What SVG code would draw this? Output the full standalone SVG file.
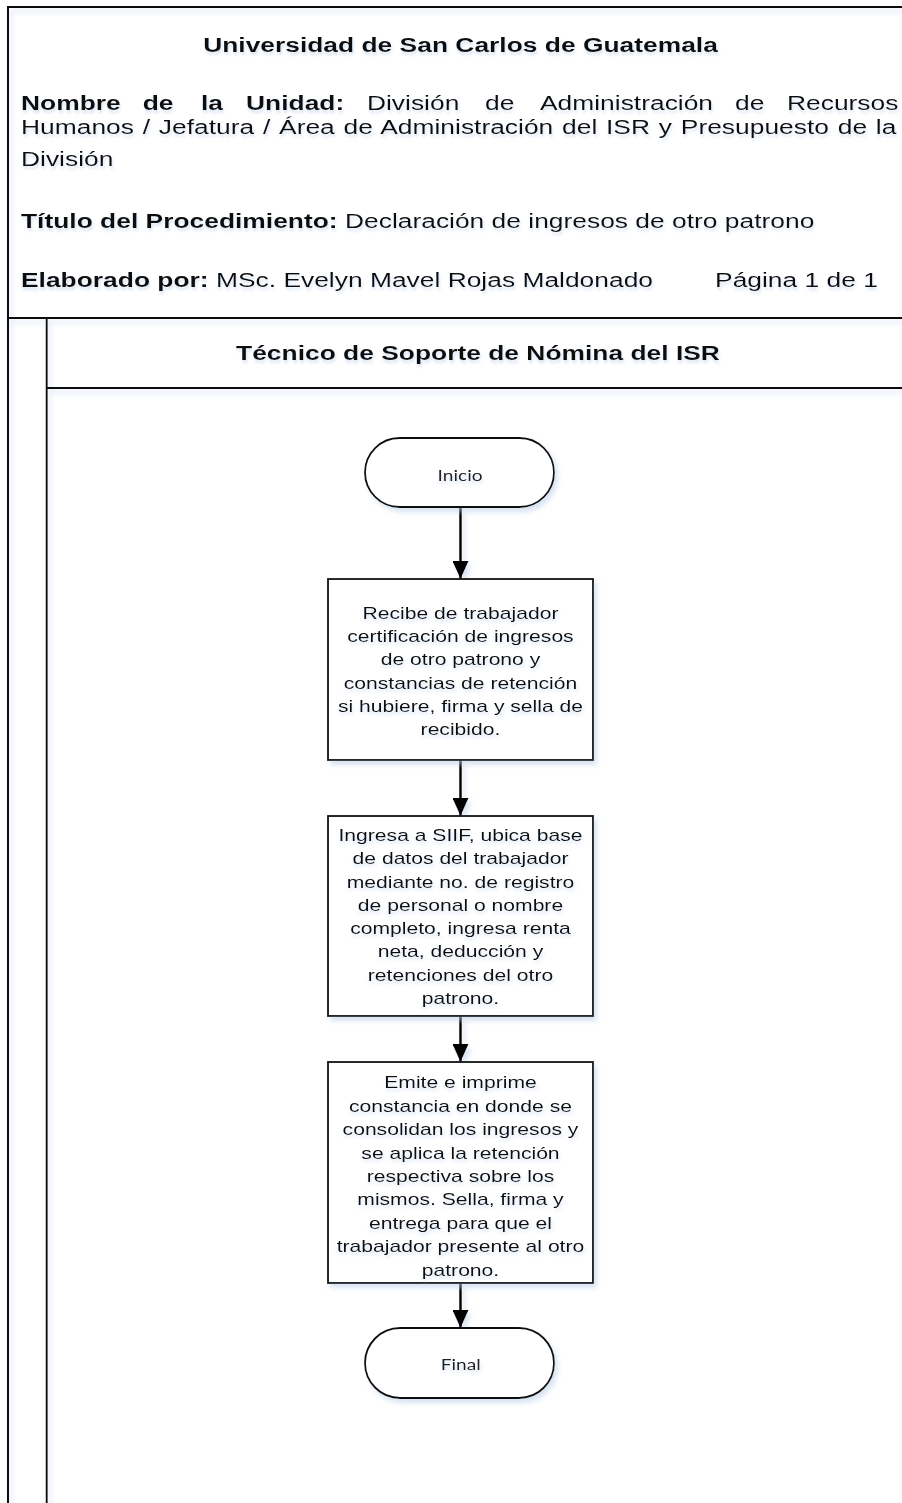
<svg xmlns="http://www.w3.org/2000/svg" width="902" height="1503" viewBox="0 0 902 1503">
<defs>
<style>
.frame{fill:none;stroke:#111;stroke-width:2}
.node{fill:#fff;stroke:#111;stroke-width:1.8}
.conn{fill:none;stroke:#000;stroke-width:2.6}
.t{font-family:"Liberation Sans",Arial,sans-serif;fill:#111}
.hb{font-size:20px;font-weight:bold}
.hr{font-size:20px}
.bx{font-size:16px;text-anchor:middle}
.term{font-family:Lato,"Open Sans",sans-serif;font-size:14.5px;text-anchor:middle;fill:#222}
</style>
<filter id="sh" x="-10%" y="-10%" width="130%" height="130%">
<feGaussianBlur in="SourceAlpha" stdDeviation="2.5"/>
<feOffset dx="3" dy="4" result="b"/>
<feFlood flood-color="#b9cde8" flood-opacity="0.55"/>
<feComposite in2="b" operator="in"/>
<feMerge><feMergeNode/><feMergeNode in="SourceGraphic"/></feMerge>
</filter>
<filter id="shu" filterUnits="userSpaceOnUse" x="0" y="0" width="902" height="1503">
<feGaussianBlur in="SourceAlpha" stdDeviation="2.5"/>
<feOffset dx="3" dy="4" result="b"/>
<feFlood flood-color="#b9cde8" flood-opacity="0.55"/>
<feComposite in2="b" operator="in"/>
<feMerge><feMergeNode/><feMergeNode in="SourceGraphic"/></feMerge>
</filter>
<filter id="ts" x="-5%" y="-30%" width="110%" height="170%">
<feGaussianBlur in="SourceAlpha" stdDeviation="1.6"/>
<feOffset dx="1" dy="2.5" result="b"/>
<feFlood flood-color="#a9c2e4" flood-opacity="0.45"/>
<feComposite in2="b" operator="in"/>
<feMerge><feMergeNode/><feMergeNode in="SourceGraphic"/></feMerge>
</filter>
<marker id="ah" viewBox="0 0 18 16" refX="18" refY="8" markerWidth="18" markerHeight="16" markerUnits="userSpaceOnUse" orient="auto">
<path d="M0,0 L18,8 L0,16 Z" fill="#000"/>
</marker>
</defs>
<rect width="902" height="1503" fill="#fff"/>

<g id="frame" filter="url(#shu)">
<path class="frame" d="M8,1503 V7 H902"/>
<path class="frame" d="M8,318 H902"/>
<path class="frame" d="M46.7,1503 V318"/>
<path class="frame" d="M46.7,388 H902"/>
</g>

<g id="header" filter="url(#ts)">
<g transform="scale(1.32,1)">
<text class="t hb" x="348.86" y="52" text-anchor="middle">Universidad de San Carlos de Guatemala</text>
<text class="t hr" y="110"><tspan class="hb" x="15.91">Nombre</tspan><tspan class="hb" x="108.1">de</tspan><tspan class="hb" x="152.3">la</tspan><tspan class="hb" x="186.4">Unidad:</tspan><tspan x="278.0">División</tspan><tspan x="367.4">de</tspan><tspan x="409.1">Administración</tspan><tspan x="556.8">de</tspan><tspan x="596.2">Recursos</tspan></text>
<text class="t hr" x="15.91" y="134" word-spacing="1.1">Humanos / Jefatura / Área de Administración del ISR y Presupuesto de la</text>
<text class="t hr" x="15.91" y="166">División</text>
<text class="t hr" x="15.91" y="228"><tspan class="hb">Título del Procedimiento:</tspan> Declaración de ingresos de otro patrono</text>
<text class="t hr" x="15.91" y="287"><tspan class="hb">Elaborado por:</tspan> MSc. Evelyn Mavel Rojas Maldonado</text>
<text class="t hr" x="541.7" y="287">Página 1 de 1</text>
</g>
</g>

<g id="lane" filter="url(#ts)">
<text class="t hb" transform="scale(1.32,1)" x="362.1" y="360" text-anchor="middle">Técnico de Soporte de Nómina del ISR</text>
</g>

<g id="connectors" filter="url(#shu)">
<line class="conn" x1="460.5" y1="507" x2="460.5" y2="579" marker-end="url(#ah)"/>
<line class="conn" x1="460.5" y1="760" x2="460.5" y2="816" marker-end="url(#ah)"/>
<line class="conn" x1="460.5" y1="1016" x2="460.5" y2="1062" marker-end="url(#ah)"/>
<line class="conn" x1="460.5" y1="1283" x2="460.5" y2="1328" marker-end="url(#ah)"/>
</g>

<g id="inicio">
<rect class="node" x="365" y="438" width="189" height="69" rx="34.5" filter="url(#sh)"/>
<text class="term" transform="scale(1.32,1)" x="348.6" y="481.5" filter="url(#ts)">Inicio</text>
</g>

<g id="paso1">
<rect class="node" x="328" y="579" width="265" height="181" filter="url(#sh)"/>
<g transform="scale(1.32,1)" filter="url(#ts)">
<text class="t bx" x="348.86" y="619.3">Recibe de trabajador</text>
<text class="t bx" x="348.86" y="642.4">certificación de ingresos</text>
<text class="t bx" x="348.86" y="665.5">de otro patrono y</text>
<text class="t bx" x="348.86" y="688.6">constancias de retención</text>
<text class="t bx" x="348.86" y="711.7">si hubiere, firma y sella de</text>
<text class="t bx" x="348.86" y="734.8">recibido.</text>
</g>
</g>

<g id="paso2">
<rect class="node" x="328" y="816" width="265" height="200" filter="url(#sh)"/>
<g transform="scale(1.32,1)" filter="url(#ts)">
<text class="t bx" x="348.86" y="841">Ingresa a SIIF, ubica base</text>
<text class="t bx" x="348.86" y="864.3">de datos del trabajador</text>
<text class="t bx" x="348.86" y="887.6">mediante no. de registro</text>
<text class="t bx" x="348.86" y="910.9">de personal o nombre</text>
<text class="t bx" x="348.86" y="934.2">completo, ingresa renta</text>
<text class="t bx" x="348.86" y="957.5">neta, deducción y</text>
<text class="t bx" x="348.86" y="980.8">retenciones del otro</text>
<text class="t bx" x="348.86" y="1004.1">patrono.</text>
</g>
</g>

<g id="paso3">
<rect class="node" x="328" y="1062" width="265" height="221" filter="url(#sh)"/>
<g transform="scale(1.32,1)" filter="url(#ts)">
<text class="t bx" x="348.86" y="1088.5">Emite e imprime</text>
<text class="t bx" x="348.86" y="1111.9">constancia en donde se</text>
<text class="t bx" x="348.86" y="1135.3">consolidan los ingresos y</text>
<text class="t bx" x="348.86" y="1158.7">se aplica la retención</text>
<text class="t bx" x="348.86" y="1182.1">respectiva sobre los</text>
<text class="t bx" x="348.86" y="1205.5">mismos. Sella, firma y</text>
<text class="t bx" x="348.86" y="1228.9">entrega para que el</text>
<text class="t bx" x="348.86" y="1252.3">trabajador presente al otro</text>
<text class="t bx" x="348.86" y="1275.7">patrono.</text>
</g>
</g>

<g id="final">
<rect class="node" x="365" y="1328" width="189" height="70" rx="35" filter="url(#sh)"/>
<text class="term" transform="scale(1.32,1)" x="349" y="1370" filter="url(#ts)">Final</text>
</g>
</svg>
